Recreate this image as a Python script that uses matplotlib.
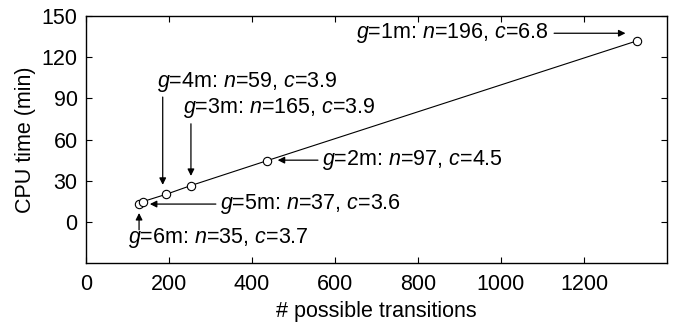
import matplotlib
matplotlib.use("Agg")
import matplotlib.pyplot as plt

plt.rcParams['font.family'] = ['Liberation Sans', 'DejaVu Sans']
plt.rcParams['mathtext.fontset'] = 'custom'
plt.rcParams['mathtext.rm'] = 'Liberation Sans'
plt.rcParams['mathtext.it'] = 'Liberation Sans:italic'

# datos
grupos = ['1m', '2m', '3m', '4m', '5m', '6m']
n_vals = [196, 97, 165, 59, 37, 35]
c_vals = ['6.8', '4.5', '3.9', '3.9', '3.6', '3.7']
transiciones = [1328, 436, 252, 194, 137, 127]
cpu_min = [132, 44.6, 26.4, 20.2, 14.8, 13.1]

# posicion del texto (x izq, y centro) y de las flechas (cola, punta)
texto_pos = [(651, 137.5), (569, 45), (234, 83), (171, 102), (323, 13), (101, -11.7)]
flecha_cola = [(1128, 137.5), (559, 45), (253, 71.5), (185, 91), (313, 13), (128, -5.8)]
flecha_punta = [(1300, 137.5), (462, 45), (253, 33.5), (185, 27), (154, 13), (128, 6.5)]

fs = 15.5

fig = plt.figure(figsize=(6.82, 3.22), dpi=100)
ax = fig.add_axes([0.126, 0.183, 0.852, 0.767])

orden = sorted(range(len(transiciones)), key=lambda i: transiciones[i])
xs = [transiciones[i] for i in orden]
ys = [cpu_min[i] for i in orden]
ax.plot(xs, ys, '-', color='black', lw=0.8)
ax.plot(xs, ys, 'o', mfc='white', mec='black', ms=6, mew=0.8)

for i in range(len(grupos)):
    etiqueta = r'$\it{g}$=' + grupos[i] + r': $\it{n}$=' + str(n_vals[i]) + r', $\it{c}$=' + c_vals[i]
    ax.text(texto_pos[i][0], texto_pos[i][1], etiqueta, fontsize=fs,
            ha='left', va='center')
    ax.annotate('', xy=flecha_punta[i], xytext=flecha_cola[i],
                arrowprops=dict(arrowstyle='-|>', color='black', lw=0.9,
                                mutation_scale=10, shrinkA=0, shrinkB=0))

ax.set_xlim(0, 1400)
ax.set_ylim(-30, 150)
ax.set_xticks([0, 200, 400, 600, 800, 1000, 1200])
ax.set_yticks([0, 30, 60, 90, 120, 150])
ax.tick_params(direction='in', top=True, right=True, labelsize=fs, length=4, width=0.8)
ax.tick_params(axis='x', pad=8)
ax.tick_params(axis='y', pad=6)
for s in ax.spines.values():
    s.set_linewidth(1.0)
ax.set_xlabel('# possible transitions', fontsize=fs, labelpad=4)
ax.set_ylabel('CPU time (min)', fontsize=fs, labelpad=4)

fig.savefig('out.png', dpi=100)
